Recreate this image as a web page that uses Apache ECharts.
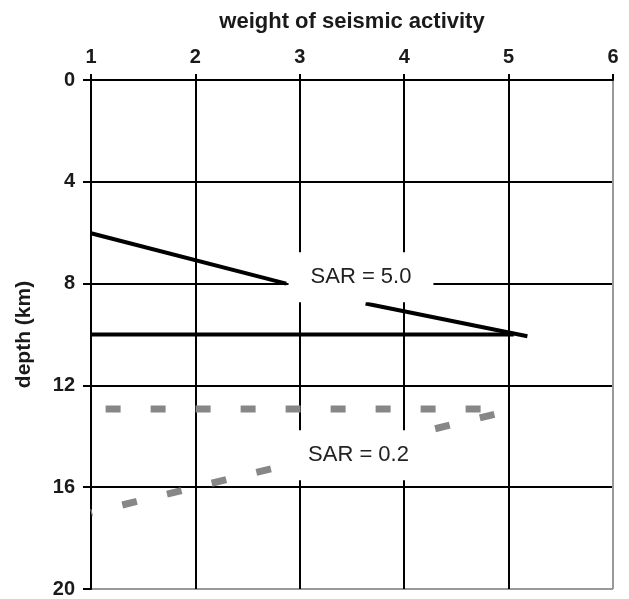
<!DOCTYPE html>
<html>
<head>
<meta charset="utf-8">
<script src="https://cdn.jsdelivr.net/npm/echarts@6/dist/echarts.min.js"></script>
<style>
html,body{margin:0;padding:0;background:#fff;}
#chart{width:629px;height:599px;}
</style>
</head>
<body>
<div id="chart"></div>
<script>
// ---- data ----
const xTickMin = 1, xTickMax = 6, xTickStep = 1;
const depthMin = 0, depthMax = 20, depthStep = 4;
const xAxisTitle = 'weight of seismic activity';
const yAxisTitle = 'depth (km)';

// SAR = 5.0 (solid black)
const sar5Upper = [[1, 6.02], [2.87, 8.0]];
const sar5Lower = [[3.63, 8.78], [5.18, 10.07]];
const sar5Base  = [[1, 10.0], [5.05, 10.0]];
// SAR = 0.2 (dashed grey)
const sar02Flat  = [[1.14, 12.93], [4.86, 12.93]];
const sar02Slope = [[1, 17.0], [4.9, 13.1]];
// annotation labels
const annotations = [
  [3.586, 7.75, 'SAR = 5.0'],
  [3.562, 14.74, 'SAR = 0.2']
];

const FONT = '"Liberation Sans", Arial, Helvetica, sans-serif';
const chart = echarts.init(document.getElementById('chart'), null, {renderer: 'canvas'});

const blackLine = (data) => ({
  type: 'line', data: data, symbol: 'none', z: 3, silent: true,
  lineStyle: {color: '#000', width: 4, cap: 'butt'}
});

chart.setOption({
  animation: false,
  backgroundColor: '#fff',
  grid: {left: 91, right: 16, top: 80, bottom: 8, containLabel: false},
  xAxis: {
    type: 'value', position: 'top',
    min: xTickMin, max: xTickMax, interval: xTickStep,
    name: xAxisTitle, nameLocation: 'middle', nameGap: 47,
    nameTextStyle: {fontFamily: FONT, fontWeight: 'bold', fontSize: 22, color: '#1a1a1a'},
    axisLine: {show: true, onZero: false, lineStyle: {color: '#000', width: 2}},
    axisTick: {show: true, inside: false, length: 6, lineStyle: {color: '#000', width: 2}},
    axisLabel: {margin: 13, fontFamily: FONT, fontWeight: 'bold', fontSize: 20, color: '#1a1a1a'},
    splitLine: {show: true, lineStyle: {color: ['#000','#000','#000','#000','#000','#999'], width: 2}}
  },
  yAxis: {
    type: 'value', inverse: true,
    min: depthMin, max: depthMax, interval: depthStep,
    name: yAxisTitle, nameLocation: 'middle', nameGap: 56,
    nameTextStyle: {fontFamily: FONT, fontWeight: 'bold', fontSize: 21, color: '#1a1a1a'},
    axisLine: {show: true, onZero: false, lineStyle: {color: '#000', width: 2}},
    axisTick: {show: true, inside: false, length: 8, lineStyle: {color: '#000', width: 2}},
    axisLabel: {margin: 16, fontFamily: FONT, fontWeight: 'bold', fontSize: 20, color: '#1a1a1a'},
    splitLine: {show: true, lineStyle: {color: ['#000','#000','#000','#000','#000','#999'], width: 2}}
  },
  series: [
    blackLine(sar5Upper),
    blackLine(sar5Lower),
    blackLine(sar5Base),
    {
      type: 'line', data: sar02Flat, symbol: 'none', z: 3, silent: true,
      lineStyle: {color: '#878787', width: 7, type: [15, 30], dashOffset: 0, cap: 'butt'}
    },
    {
      type: 'line', data: sar02Slope, symbol: 'none', z: 3, silent: true,
      lineStyle: {color: '#878787', width: 7, type: [15, 31], dashOffset: 13.8, cap: 'butt'}
    },
    {
      type: 'scatter', data: annotations, symbolSize: 0, z: 10, silent: true,
      itemStyle: {opacity: 1},
      label: {
        show: true, position: 'inside', opacity: 1,
        formatter: (p) => p.data[2],
        fontFamily: FONT, fontSize: 22, color: '#222',
        backgroundColor: '#fff', padding: [14, 22]
      }
    }
  ]
});
</script>
</body>
</html>
